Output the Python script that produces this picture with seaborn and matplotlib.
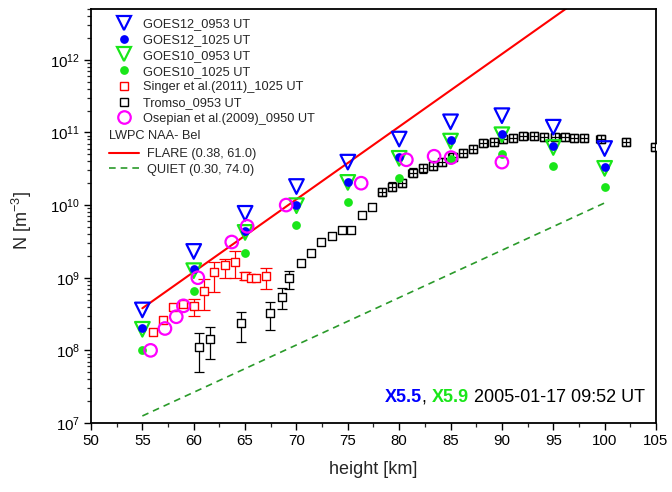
import numpy as np
import matplotlib
matplotlib.use('Agg')
import matplotlib.pyplot as plt
import seaborn as sns
from matplotlib.lines import Line2D
from matplotlib.ticker import MultipleLocator, LogLocator, NullFormatter

# ---------------- data ----------------
goes_h = [55, 60, 65, 70, 75, 80, 85, 90, 95, 100]
goes12_0953 = [3.6e8, 2.3e9, 7.7e9, 1.8e10, 3.9e10, 8.1e10, 1.4e11, 1.7e11, 1.18e11, 6.0e10]
goes12_1025 = [2.0e8, 1.3e9, 4.4e9, 1.0e10, 2.1e10, 4.6e10, 7.9e10, 9.5e10, 6.5e10, 3.3e10]
goes10_0953 = [1.95e8, 1.25e9, 4.2e9, 9.8e9, 2.05e10, 4.4e10, 7.6e10, 9.3e10, 6.2e10, 3.2e10]
goes10_1025 = [1.02e8, 6.6e8, 2.2e9, 5.3e9, 1.1e10, 2.35e10, 4.3e10, 5.0e10, 3.4e10, 1.8e10]

singer_h = [56.0, 57.0, 58.0, 59.0, 60.0, 61.0, 62.0, 63.0, 64.0, 65.0, 65.6, 66.1, 67.0]
singer_N = [1.8e8, 2.6e8, 4.0e8, 4.3e8, 4.1e8, 6.5e8, 1.18e9, 1.5e9, 1.65e9, 1.05e9, 1.0e9, 1.0e9, 1.05e9]
singer_lo = [np.nan, np.nan, np.nan, np.nan, 3.0e8, 3.6e8, 6.3e8, 1.0e9, 1.0e9, 0.93e9, np.nan, np.nan, 7.1e8]
singer_hi = [np.nan, np.nan, np.nan, np.nan, 5.1e8, 9.5e8, 1.66e9, 1.8e9, 2.3e9, 1.2e9, np.nan, np.nan, 1.38e9]

tromso_low_h = [60.5, 61.6, 64.6, 67.4, 68.6, 69.3]
tromso_low_N = [1.12e8, 1.45e8, 2.4e8, 3.3e8, 5.5e8, 1.0e9]
tromso_low_lo = [5.0e7, 7.6e7, 1.3e8, 1.9e8, 3.7e8, 6.9e8]
tromso_low_hi = [1.74e8, 2.1e8, 3.4e8, 4.6e8, 7.2e8, 1.23e9]

tromso_mid_h = [70.45, 71.4, 72.4, 73.5, 74.4, 75.3, 76.4, 77.4]
tromso_mid_N = [1.6e9, 2.2e9, 3.1e9, 3.7e9, 4.6e9, 4.5e9, 7.3e9, 9.3e9]

tromso_up_h = [78.3, 79.3, 80.3, 81.3, 82.3, 83.3, 84.2, 85.2, 86.2, 87.2, 88.2, 89.2,
               90.1, 91.1, 92.1, 93.1, 94.1, 95.2, 96.1, 97.0, 98.0, 99.6, 102.1, 104.9]
tromso_up_N = [1.5e10, 1.8e10, 2.0e10, 2.8e10, 3.2e10, 3.5e10, 3.9e10, 4.6e10, 5.2e10, 5.9e10, 7.1e10, 7.4e10,
               8.1e10, 8.4e10, 8.9e10, 8.9e10, 8.7e10, 8.7e10, 8.7e10, 8.4e10, 8.4e10, 8.1e10, 7.4e10, 6.3e10]
tromso_up_lo = [1.32e10, 1.58e10, 1.75e10, 2.46e10, 2.8e10, 3.07e10, 3.42e10, 4.04e10, 4.56e10, 5.18e10, 6.23e10, 6.49e10,
                7.1e10, 7.37e10, 7.81e10, 7.81e10, 7.63e10, 7.63e10, 7.63e10, 7.37e10, 7.37e10, 7.1e10, 6.49e10, 5.53e10]
tromso_up_hi = [1.71e10, 2.05e10, 2.28e10, 3.19e10, 3.65e10, 3.99e10, 4.45e10, 5.24e10, 5.93e10, 6.73e10, 8.09e10, 8.44e10,
                9.23e10, 9.58e10, 1.01e11, 1.01e11, 9.92e10, 9.92e10, 9.92e10, 9.58e10, 9.58e10, 9.23e10, 8.44e10, 7.18e10]
tromso_up_dh = 0.4

osepian_h = [55.8, 57.2, 58.3, 59.0, 60.4, 63.7, 65.2, 69.0, 76.3, 80.7, 83.4, 85.05, 90.0]
osepian_N = [1.0e8, 2.0e8, 2.9e8, 4.1e8, 1.0e9, 3.1e9, 5.1e9, 1.0e10, 2.0e10, 4.2e10, 4.7e10, 4.5e10, 3.9e10]

flare_h = [55, 100]
flare_N = [3.8e8, 1.2e13]
quiet_h = [55, 100]
quiet_N = [1.25e7, 1.07e10]

labels = ["GOES12_0953 UT", "GOES12_1025 UT", "GOES10_0953 UT", "GOES10_1025 UT",
          "Singer et al.(2011)_1025 UT", "Tromso_0953 UT", "Osepian et al.(2009)_0950 UT"]
model_title = "LWPC NAA- Bel"
model_labels = ["FLARE (0.38, 61.0)", "QUIET (0.30, 74.0)"]

# ---------------- style ----------------
sns.set_style('ticks')
plt.rcParams['font.family'] = ['Liberation Sans', 'DejaVu Sans']
plt.rcParams['mathtext.fontset'] = 'custom'
plt.rcParams['mathtext.rm'] = 'Liberation Sans'
plt.rcParams['mathtext.it'] = 'Liberation Sans:italic'
plt.rcParams['mathtext.bf'] = 'Liberation Sans:bold'

BLUE = '#0000ff'
GREEN = '#19e619'
RED = '#ff0000'
MAG = '#ff00ff'
QGREEN = '#2a9a2a'

fig = plt.figure(figsize=(6.72, 4.92), dpi=100)
ax = fig.add_axes([91 / 672, 1 - 423 / 492, 565 / 672, 414 / 492])
ax.set_yscale('log')

TRI = 10.5
DOT = 6.3
CIR = 9.0
SQ = 6.0


def pts(h, N, marker, ms, fc, ec, lw, z):
    sns.scatterplot(x=h, y=N, ax=ax, marker=marker, s=ms ** 2, facecolor=fc,
                    edgecolor=ec, linewidth=lw, zorder=z, legend=False)


# model lines
sns.lineplot(x=flare_h, y=flare_N, ax=ax, color=RED, linewidth=1.5, zorder=2)
sns.lineplot(x=quiet_h, y=quiet_N, ax=ax, color=QGREEN, linewidth=1.2, zorder=2)
ax.lines[-1].set_dashes((4, 3))

# Singer (red squares w/ error bars)
s_h = np.array(singer_h); s_N = np.array(singer_N)
s_lo = np.array(singer_lo); s_hi = np.array(singer_hi)
m = ~np.isnan(s_lo)
ax.errorbar(s_h[m], s_N[m], yerr=[s_N[m] - s_lo[m], s_hi[m] - s_N[m]], fmt='none',
            ecolor=RED, elinewidth=0.9, capsize=4.3, capthick=0.9, zorder=3)
pts(singer_h, singer_N, 's', SQ, 'white', RED, 1.0, 4)

# Tromso (black squares)
tl_N = np.array(tromso_low_N)
ax.errorbar(tromso_low_h, tl_N, yerr=[tl_N - np.array(tromso_low_lo), np.array(tromso_low_hi) - tl_N],
            fmt='none', ecolor='black', elinewidth=0.9, capsize=3.6, capthick=0.9, zorder=3)
pts(tromso_low_h + tromso_mid_h + tromso_up_h, tromso_low_N + tromso_mid_N + tromso_up_N,
    's', SQ, 'white', 'black', 1.0, 4)
tu_N = np.array(tromso_up_N)
ax.errorbar(tromso_up_h, tu_N, yerr=[tu_N - np.array(tromso_up_lo), np.array(tromso_up_hi) - tu_N],
            xerr=tromso_up_dh, fmt='none', ecolor='black', elinewidth=0.9, capsize=2.6,
            capthick=0.9, zorder=4.5)

# GOES
pts(goes_h, goes12_0953, 'v', TRI, 'none', BLUE, 1.6, 5)
pts(goes_h, goes10_0953, 'v', TRI, 'none', GREEN, 1.6, 5.2)
pts(goes_h, goes10_1025, 'o', DOT, GREEN, GREEN, 0, 5.1)
pts(goes_h, goes12_1025, 'o', DOT, BLUE, BLUE, 0, 5.5)

# Osepian
pts(osepian_h, osepian_N, 'o', CIR, 'none', MAG, 1.6, 6)

# ---------------- axes ----------------
ax.set_xlim(50, 105)
ax.set_ylim(1e7, 5e12)
ax.xaxis.set_major_locator(MultipleLocator(5))
ax.xaxis.set_minor_locator(MultipleLocator(2.5))
ax.yaxis.set_minor_locator(LogLocator(base=10, subs=np.arange(2, 10)))
ax.yaxis.set_minor_formatter(NullFormatter())
ax.tick_params(axis='both', which='major', direction='out', length=5, width=1.0,
               labelsize=10.8, colors='black', pad=3)
ax.tick_params(axis='both', which='minor', direction='out', length=3, width=0.9)
ax.tick_params(top=False, right=False, which='both')
for sp in ax.spines.values():
    sp.set_visible(True)
    sp.set_color('black')
    sp.set_linewidth(1.3)
ax.grid(False)
ax.set_xlabel('height [km]', fontsize=13, labelpad=9)
ax.set_ylabel(r'N [m$^{-3}$]', fontsize=13, labelpad=5)
ax.yaxis.set_label_coords(-0.1, 0.49)

# ---------------- legends ----------------
h1 = [
    Line2D([], [], ls='none', marker='v', ms=TRI, mfc='none', mec=BLUE, mew=1.6),
    Line2D([], [], ls='none', marker='o', ms=DOT, mfc=BLUE, mec=BLUE, mew=0),
    Line2D([], [], ls='none', marker='v', ms=TRI, mfc='none', mec=GREEN, mew=1.6),
    Line2D([], [], ls='none', marker='o', ms=DOT, mfc=GREEN, mec=GREEN, mew=0),
    Line2D([], [], ls='none', marker='s', ms=SQ, mfc='white', mec=RED, mew=1.0),
    Line2D([], [], ls='none', marker='s', ms=SQ, mfc='white', mec='black', mew=1.0),
    Line2D([], [], ls='none', marker='o', ms=CIR, mfc='none', mec=MAG, mew=1.6),
]
leg1 = ax.legend(h1, labels, loc='upper left', bbox_to_anchor=(0.0453, 0.977),
                 frameon=False, fontsize=9.2, handlelength=1.2, handletextpad=0.84,
                 labelspacing=0.29, borderpad=0, borderaxespad=0)
ax.add_artist(leg1)

ax.text(0.032, 0.694, model_title, transform=ax.transAxes, fontsize=9.2, va='center', ha='left')

h2 = [Line2D([], [], color=RED, lw=1.5),
      Line2D([], [], color=QGREEN, lw=1.2, dashes=(4, 3))]
ax.legend(h2, model_labels, loc='upper left', bbox_to_anchor=(0.032, 0.664),
          frameon=False, fontsize=9.2, handlelength=2.34, handletextpad=0.6,
          labelspacing=0.29, borderpad=0, borderaxespad=0)

# ---------------- annotation ----------------
fs = 13
t1 = ax.text(0.52, 0.041, 'X5.5', color=BLUE, fontweight='bold', fontsize=fs,
             transform=ax.transAxes, va='bottom', ha='left')
t2 = ax.annotate(', ', xy=(1, 0), xycoords=t1, va='bottom', ha='left', fontsize=fs, color='black')
t3 = ax.annotate('X5.9', xy=(1, 0), xycoords=t2, va='bottom', ha='left', fontsize=fs,
                 color=GREEN, fontweight='bold')
t4 = ax.annotate(' 2005-01-17 09:52 UT', xy=(1, 0), xycoords=t3, va='bottom', ha='left',
                 fontsize=fs, color='black')

fig.savefig('out.png', dpi=100)
